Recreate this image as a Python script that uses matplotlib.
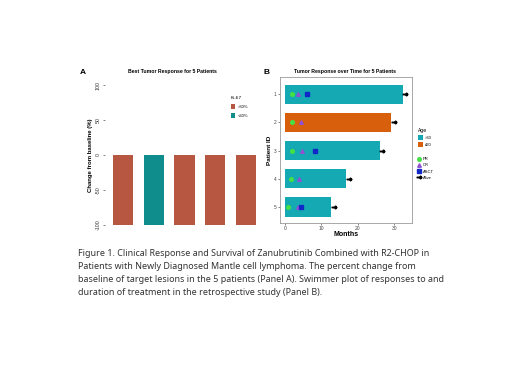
import matplotlib
matplotlib.use("Agg")
import matplotlib.pyplot as plt
from matplotlib.patches import Patch
from matplotlib.lines import Line2D

# ---------------- data ----------------
# Panel A
a_patients = [1, 2, 3, 4, 5]
a_change = [-100, -100, -100, -100, -100]
a_ki67 = [">30%", "<30%", ">30%", ">30%", ">30%"]
a_ticks = [-100, -50, 0, 50, 100]

# Panel B
b_patients = [1, 2, 3, 4, 5]
b_duration = [32.2, 29.0, 25.9, 16.7, 12.5]
b_age = [">60", "≤60", ">60", ">60", ">60"]
b_pr = [1.8, 2.0, 1.8, 1.6, 0.8]
b_cr = [3.6, 4.3, 4.6, 3.8, 3.6]
b_asct = [6.1, None, 8.1, None, 4.5]
b_alive = [True, True, True, True, True]
b_xticks = [0, 10, 20, 30]

caption_lines = [
    "Figure 1. Clinical Response and Survival of Zanubrutinib Combined with R2-CHOP in",
    "Patients with Newly Diagnosed Mantle cell lymphoma. The percent change from",
    "baseline of target lesions in the 5 patients (Panel A). Swimmer plot of responses to and",
    "duration of treatment in the retrospective study (Panel B).",
]

# ---------------- styles ----------------
W, H = 520, 384
ki_colors = {">30%": "#B85741", "<30%": "#0F8C8C"}
age_colors = {">60": "#15A9B4", "≤60": "#D8600C"}
c_pr, c_cr, c_asct = "#45E045", "#9050D2", "#1028C8"
SF = "Liberation Sans"

fig = plt.figure(figsize=(W / 100, H / 100), dpi=100)
fig.patch.set_facecolor("white")


def px_axes(x0, y0, x1, y1):
    return fig.add_axes([x0 / W, 1 - y1 / H, (x1 - x0) / W, (y1 - y0) / H])


# ---------------- Panel A ----------------
axA = px_axes(104.5, 78, 264.5, 232)
colsA = [ki_colors[k] for k in a_ki67]
axA.bar(a_patients, a_change, width=0.66, color=colsA)
axA.set_xlim(0.4, 5.6)
axA.set_ylim(-110, 110)
axA.set_yticks(a_ticks)
axA.set_yticklabels([str(t) for t in a_ticks], rotation=90, va="center",
                    fontsize=3.8, family=SF, color="#333333")
axA.tick_params(axis="y", length=1.5, width=0.5, color="#555555", pad=1.5)
axA.set_xticks([])
for s in axA.spines.values():
    s.set_visible(False)
axA.set_ylabel("Change from baseline (%)", fontsize=4.3, fontweight="bold",
               family=SF, labelpad=2)
fig.text(172 / W, 1 - 72 / H, "Best Tumor Response for 5 Patients", ha="center",
         va="center", fontsize=3.7, fontweight="bold", family=SF)
fig.text(80 / W, 1 - 72 / H, "A", ha="left", va="center", fontsize=6,
         fontweight="bold", family=SF)
handlesA = [Patch(facecolor=ki_colors[">30%"], label=">30%"),
            Patch(facecolor=ki_colors["<30%"], label="<30%")]
fig.legend(handles=handlesA, title="Ki-67", loc="upper left",
           bbox_to_anchor=(229 / W, 1 - 94 / H), frameon=False,
           prop={"family": SF, "size": 3}, title_fontsize=3.2,
           handlelength=1.0, handleheight=1.6, handletextpad=0.6,
           labelspacing=0.9, borderpad=0, alignment="left")

# ---------------- Panel B ----------------
axB = px_axes(280, 77, 412, 223)
colsB = [age_colors[a] for a in b_age]
axB.barh(b_patients, b_duration, height=0.68, color=colsB, zorder=2)
axB.plot(b_pr, b_patients, "o", color=c_pr, ms=2.6, zorder=3)
axB.plot(b_cr, b_patients, "^", color=c_cr, ms=2.6, zorder=3)
asct_x = [v for v in b_asct if v is not None]
asct_y = [p for p, v in zip(b_patients, b_asct) if v is not None]
axB.plot(asct_x, asct_y, "s", color=c_asct, ms=2.6, zorder=3)
alive_x = [d + 0.8 for d, a in zip(b_duration, b_alive) if a]
alive_y = [p for p, a in zip(b_patients, b_alive) if a]
axB.plot(alive_x, alive_y, marker=r"$\rightarrow$", ls="none", color="black",
         ms=3.4, zorder=3)
axB.set_xlim(-1.37, 34.8)
axB.set_ylim(5.57, 0.39)
axB.set_xticks(b_xticks)
axB.set_xticklabels([str(t) for t in b_xticks], fontsize=3.6, family=SF,
                    color="#444444")
axB.set_yticks(b_patients)
axB.set_yticklabels([str(p) for p in b_patients], fontsize=3.4, family=SF,
                    color="#444444")
axB.tick_params(length=1.5, width=0.5, color="#555555", pad=1)
for s in axB.spines.values():
    s.set_color("#9a9a9a")
    s.set_linewidth(0.6)
axB.set_xlabel("Months", fontsize=5, fontweight="bold", family=SF, labelpad=0)
axB.set_ylabel("Patient ID", fontsize=4.6, fontweight="bold", family=SF,
               labelpad=1)
fig.text(345 / W, 1 - 72 / H, "Tumor Response over Time for 5 Patients",
         ha="center", va="center", fontsize=3.7, fontweight="bold", family=SF)
fig.text(263 / W, 1 - 72 / H, "B", ha="left", va="center", fontsize=6,
         fontweight="bold", family=SF)
handlesAge = [Patch(facecolor=age_colors[">60"], label=">60"),
              Patch(facecolor=age_colors["≤60"], label="≤60")]
fig.legend(handles=handlesAge, title="Age", loc="upper left",
           bbox_to_anchor=(416 / W, 1 - 126 / H), frameon=False,
           prop={"family": SF, "size": 3}, title_fontsize=3.4,
           handlelength=1.1, handleheight=1.5, handletextpad=0.6,
           labelspacing=0.5, borderpad=0, alignment="left")
handlesM = [
    Line2D([], [], marker="o", ls="none", color=c_pr, ms=2.6, label="PR"),
    Line2D([], [], marker="^", ls="none", color=c_cr, ms=2.6, label="CR"),
    Line2D([], [], marker="s", ls="none", color=c_asct, ms=2.6, label="ASCT"),
    Line2D([], [], marker=r"$\rightarrow$", ls="none", color="black", ms=3.4,
           label="Alive"),
]
fig.legend(handles=handlesM, loc="upper left",
           bbox_to_anchor=(414 / W, 1 - 155 / H), frameon=False,
           prop={"family": SF, "size": 3}, handlelength=1.2,
           handletextpad=0.4, labelspacing=0.55, borderpad=0)

# ---------------- caption ----------------
fig.text(78 / W, 1 - 248.5 / H, "\n".join(caption_lines), ha="left", va="top",
         fontsize=6.45, family="Noto Sans", color="#333333", linespacing=1.58)

fig.savefig("out.png", dpi=100, facecolor="white")
